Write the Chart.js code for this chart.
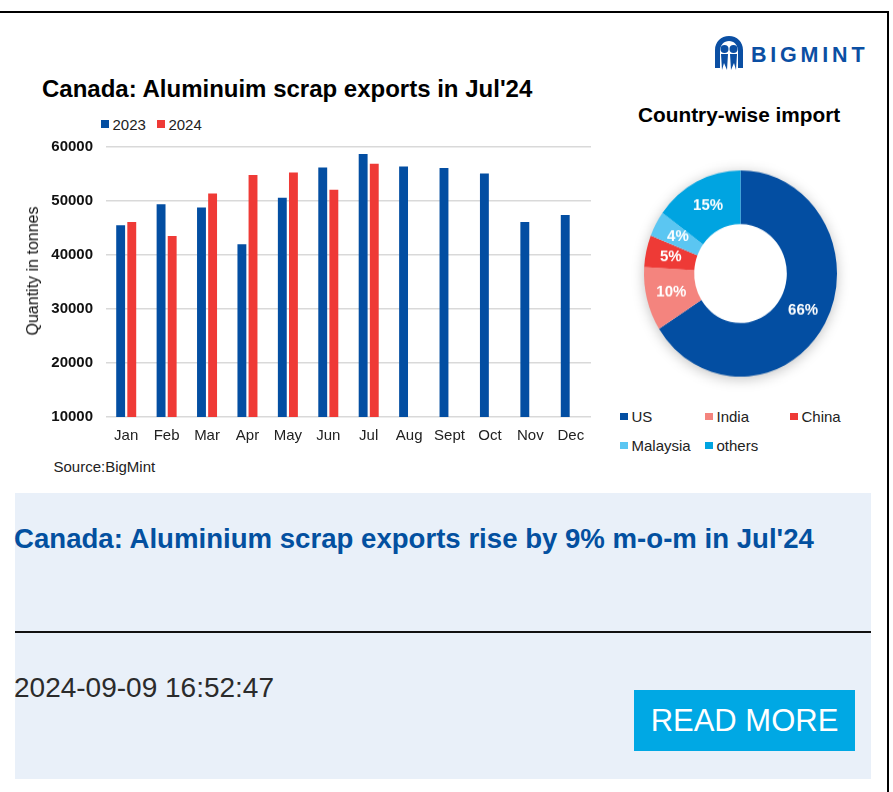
<!DOCTYPE html>
<html>
<head>
<meta charset="utf-8">
<script src="https://cdn.jsdelivr.net/npm/chart.js@4/dist/chart.umd.min.js"></script>
<style>
  html, body { margin:0; padding:0; background:#fff; width:893px; height:792px; overflow:hidden; font-family:'Liberation Sans', Arial, sans-serif; }
  .abs { position:absolute; }
  .frame { position:absolute; left:-10px; top:11px; width:899px; height:800px; border-top:2px solid #000; border-right:2px solid #000; box-sizing:border-box; }
  .t1 { left:42px; top:76.5px; font-size:24px; font-weight:bold; line-height:1; color:#000; white-space:nowrap; }
  .t2 { left:638px; top:104.5px; font-size:20.8px; font-weight:bold; line-height:1; color:#000; white-space:nowrap; }
  .logo { left:751px; top:45px; font-size:21.5px; font-weight:bold; line-height:1; color:#0b4fa3; letter-spacing:3.8px; white-space:nowrap; }
  .leg { display:flex; align-items:center; height:18px; font-size:15px; color:#222; white-space:nowrap; }
  .leg .sw { width:8px; height:8px; margin-right:3.5px; display:inline-block; }
  .leg .it { display:flex; align-items:center; }
  .ytitle { left:33px; top:271px; font-size:16px; line-height:1; color:#111; white-space:nowrap; transform:translate(-50%,-50%) rotate(-90deg); }
  .dleg { left:620px; top:402px; display:grid; grid-template-columns:85px 85px 85px; grid-auto-rows:29px; font-size:15px; color:#222; }
  .dleg .it { display:flex; align-items:center; white-space:nowrap; }
  .dleg .sw { width:7.5px; height:7.5px; margin-right:4px; display:inline-block; }
  .src { left:53.5px; top:459px; font-size:15px; line-height:1; color:#222; white-space:nowrap; }
  .panel { left:15px; top:493px; width:856px; height:286px; background:#e9f0f9; }
  .head { left:14px; top:524.5px; font-size:27.6px; font-weight:bold; line-height:1; color:#0350a0; white-space:nowrap; }
  .sep { left:15px; top:631px; width:856px; height:2px; background:#111; }
  .date { left:14px; top:674px; font-size:28px; line-height:1; color:#2b2b2b; white-space:nowrap; }
  .btn { left:634px; top:690px; width:221px; height:61px; background:#00a8e4; color:#fff; font-size:31px; line-height:1; display:flex; align-items:center; justify-content:center; white-space:nowrap; }
</style>
</head>
<body>
<div class="frame"></div>

<svg class="abs" style="left:714px;top:35px" width="30" height="36" viewBox="0 0 30 36">
  <path d="M15 1 C7 1 1 7 1 15 L1 33 L6 33 L6 16 C6 10 10 6 15 6 C20 6 24 10 24 16 L24 33 L29 33 L29 15 C29 7 23 1 15 1 Z" fill="#0b4fa3"/>
  <circle cx="10.5" cy="14" r="4" fill="#0b4fa3"/>
  <circle cx="19.5" cy="14" r="4" fill="#0b4fa3"/>
  <path d="M7 19 L14 19 L13 35 L10 28 L8 35 Z" fill="#0b4fa3"/>
  <path d="M16 19 L23 19 L22 35 L20 28 L17 35 Z" fill="#0b4fa3"/>
</svg>
<div class="abs logo">BIGMINT</div>

<div class="abs t1">Canada: Aluminuim scrap exports in Jul'24</div>
<div class="abs leg" id="barLegend" style="left:101px;top:115px;"></div>

<canvas id="bar" class="abs" style="left:20px;top:125px;width:580px;height:325px" width="580" height="325"></canvas>
<div class="abs ytitle">Quantity in tonnes</div>
<div class="abs src">Source:BigMint</div>

<div class="abs t2">Country-wise import</div>
<canvas id="donut" class="abs" style="left:624px;top:149px;width:233px;height:249px" width="233" height="233"></canvas>
<div class="abs dleg" id="donutLegend"></div>

<div class="abs panel"></div>
<div class="abs head">Canada: Aluminium scrap exports rise by 9% m-o-m in Jul'24</div>
<div class="abs sep"></div>
<div class="abs date">2024-09-09 16:52:47</div>
<div class="abs btn">READ MORE</div>

<script>
// ---- data ----
const months = ['Jan','Feb','Mar','Apr','May','Jun','Jul','Aug','Sept','Oct','Nov','Dec'];
const seriesNames = ['2023','2024'];
const exports2023 = [45500, 49400, 48800, 42000, 50600, 56200, 58700, 56400, 56100, 55100, 46100, 47400];
const exports2024 = [46100, 43500, 51400, 54800, 55300, 52100, 56900, null, null, null, null, null];
const yTickMin = 10000, yTickMax = 60000, yTickStep = 10000;
const countries = ['US','India','China','Malaysia','others'];
const shares = [66, 10, 5, 4, 15];

// ---- styles ----
const barColors = ['#034ea2', '#ef3a36'];
const donutColors = ['#034ea2', '#f4847e', '#ee3a36', '#5bc6f2', '#00a4e1'];
const FONT = "'Liberation Sans', Arial, sans-serif";
Chart.defaults.font.family = FONT;
Chart.defaults.animation = false;

const bl = document.getElementById('barLegend');
seriesNames.forEach((n, i) => {
  const it = document.createElement('span');
  it.className = 'it';
  it.style.marginRight = '11px';
  it.innerHTML = '<span class="sw" style="background:' + barColors[i] + '"></span>' + n;
  bl.appendChild(it);
});

new Chart(document.getElementById('bar'), {
  type: 'bar',
  data: {
    labels: months,
    datasets: [
      { label: seriesNames[0], data: exports2023, backgroundColor: barColors[0], barPercentage: 0.8, categoryPercentage: 0.55 },
      { label: seriesNames[1], data: exports2024, backgroundColor: barColors[1], barPercentage: 0.8, categoryPercentage: 0.55 }
    ]
  },
  options: {
    responsive: false,
    layout: { autoPadding: false, padding: { left: 0, right: 9, top: 12, bottom: 0 } },
    plugins: { legend: { display: false }, tooltip: { enabled: false } },
    scales: {
      x: {
        grid: { display: false, drawTicks: false },
        border: { display: false },
        ticks: { padding: 10, color: '#222', font: { size: 15 }, maxRotation: 0, autoSkip: false },
        afterFit: s => { s.height = 33; }
      },
      y: {
        min: yTickMin, max: yTickMax,
        grid: { color: '#d9d9d9', lineWidth: 1.5, drawTicks: false },
        border: { display: false },
        ticks: { stepSize: yTickStep, padding: 13, color: '#111', font: { size: 15, weight: 'bold' }, callback: v => String(v) },
        afterFit: s => { s.width = 86; }
      }
    }
  }
});

const dl = document.getElementById('donutLegend');
countries.forEach((c, i) => {
  const it = document.createElement('span');
  it.className = 'it';
  it.innerHTML = '<span class="sw" style="background:' + donutColors[i] + '"></span>' + c;
  dl.appendChild(it);
});

const shadowPlugin = {
  id: 'ringShadow',
  beforeDatasetsDraw(chart) {
    const arc = chart.getDatasetMeta(0).data[0];
    if (!arc) return;
    const ctx = chart.ctx;
    ctx.save();
    ctx.shadowColor = 'rgba(0,0,0,0.28)';
    ctx.shadowBlur = 14;
    ctx.shadowOffsetY = 2;
    ctx.beginPath();
    ctx.arc(arc.x, arc.y, arc.outerRadius - 1, 0, Math.PI * 2);
    ctx.fillStyle = '#ffffff';
    ctx.fill();
    ctx.restore();
  }
};
const labelPlugin = {
  id: 'arcLabels',
  afterDatasetsDraw(chart) {
    const ctx = chart.ctx;
    const meta = chart.getDatasetMeta(0);
    ctx.save();
    ctx.fillStyle = '#ffffff';
    ctx.font = 'bold 15px ' + FONT;
    ctx.textAlign = 'center';
    ctx.textBaseline = 'middle';
    meta.data.forEach((arc, i) => {
      const p = arc.tooltipPosition();
      ctx.fillText(chart.data.datasets[0].data[i] + '%', p.x, p.y);
    });
    ctx.restore();
  }
};

new Chart(document.getElementById('donut'), {
  type: 'doughnut',
  data: {
    labels: countries,
    datasets: [{ data: shares, backgroundColor: donutColors, borderWidth: 0 }]
  },
  options: {
    responsive: false,
    cutout: '48%',
    layout: { padding: 20 },
    plugins: { legend: { display: false }, tooltip: { enabled: false } }
  },
  plugins: [shadowPlugin, labelPlugin]
});
</script>
</body>
</html>
